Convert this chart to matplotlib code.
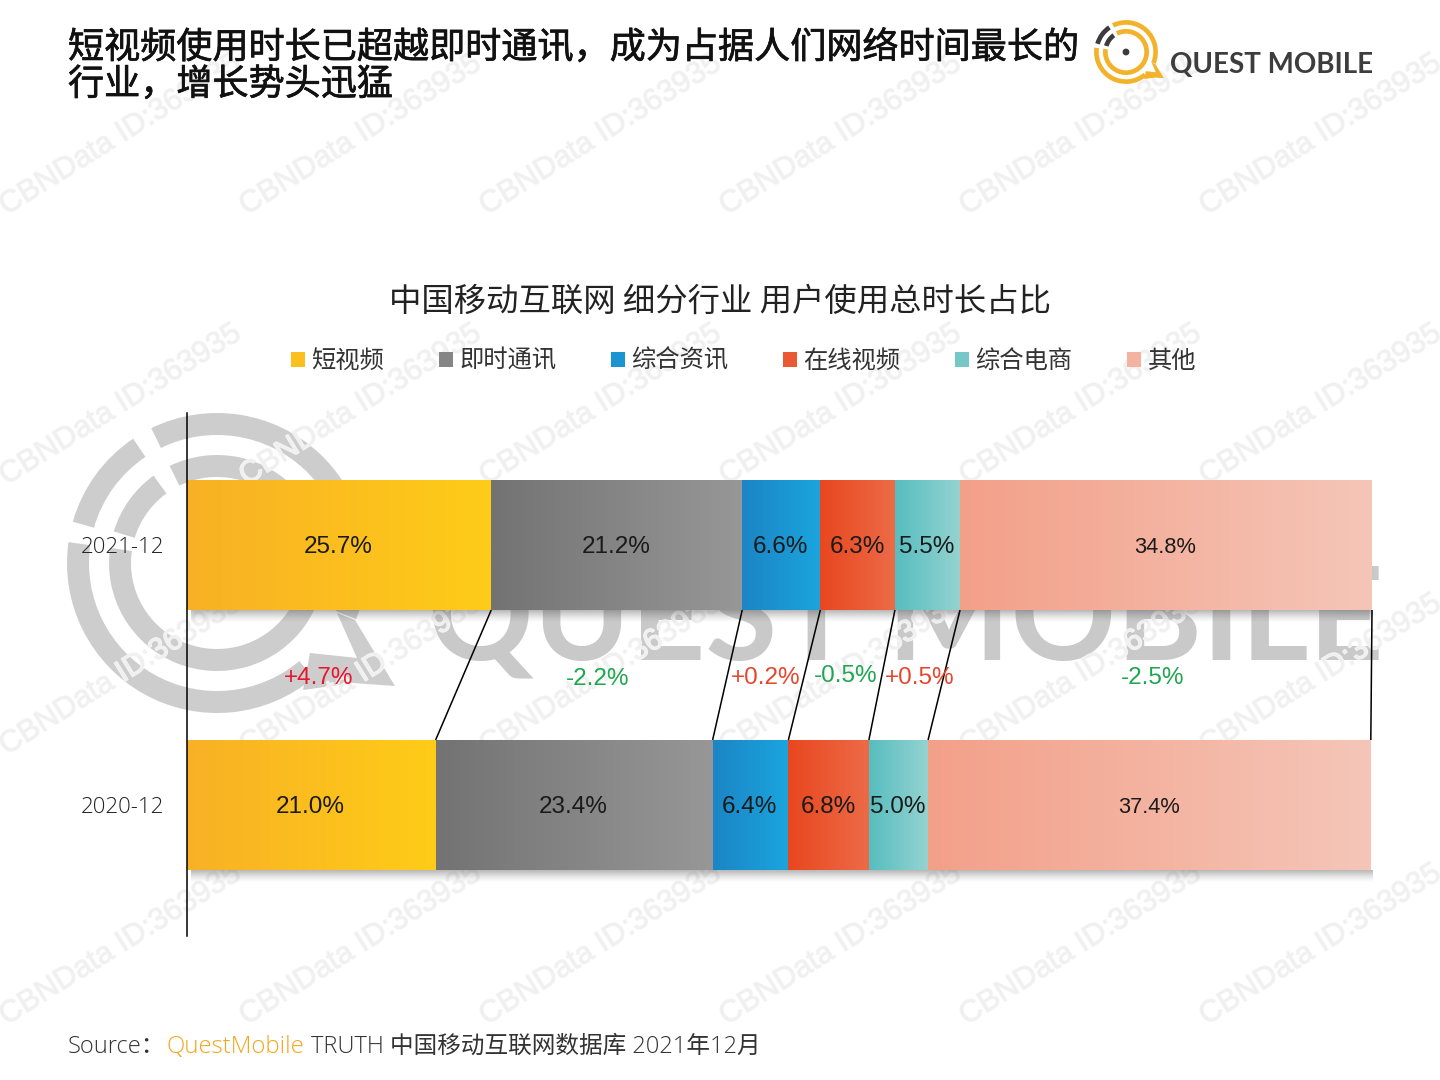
import numpy as np
import matplotlib
matplotlib.use("Agg")
import matplotlib.pyplot as plt
import matplotlib.patheffects as pe
from matplotlib.colors import to_rgb
from matplotlib.patches import Wedge, Polygon, Circle, Patch

CJK = ['Noto Sans CJK SC', 'DejaVu Sans']
plt.rcParams['font.family'] = CJK

years = ['2021-12', '2020-12']
categories = ['短视频', '即时通讯', '综合资讯', '在线视频', '综合电商', '其他']
share_2021 = [25.7, 21.2, 6.6, 6.3, 5.5, 34.8]
share_2020 = [21.0, 23.4, 6.4, 6.8, 5.0, 37.4]
changes = ['+4.7%', '-2.2%', '+0.2%', '-0.5%', '+0.5%', '-2.5%']
change_colors = ['#e5172f', '#1fa650', '#e8452c', '#1fa650', '#e8452c', '#1fa650']
colors_start = ['#f8b125', '#737373', '#1c85c5', '#e8471f', '#58bdbf', '#f3a089']
colors_end = ['#ffcc18', '#979797', '#1aa5de', '#ec6b47', '#95d3d1', '#f5c6b8']
legend_colors = ['#fcc01e', '#858585', '#1b95d2', '#ea5933', '#76c8c8', '#f4b3a1']

W, H = 1440, 1080
fig = plt.figure(figsize=(W / 100, H / 100), dpi=100, facecolor='white')

# ---------- background layer in pixel coordinates (y measured from top)
bg = fig.add_axes([0, 0, 1, 1], zorder=0)
bg.set_xlim(0, W)
bg.set_ylim(0, H)
bg.axis('off')
Y = lambda py: H - py


def logo(cx, cy, s, ring, dark, z):
    cyy = Y(cy)
    R1, R2, w = 150 * s, 108 * s, 22 * s
    arcs = [(R1, -22, 116, ring), (R1, 172, 310, ring), (R2, 172, 476, ring),
            (R1, 124, 164, dark), (R2, 126, 163, dark)]
    for r, a0, a1, c in arcs:
        bg.add_patch(Wedge((cx, cyy), r, a0, a1, width=w, fc=c, ec='none', zorder=z))
    pts = [(138, -57), (178, -123), (136, -120), (86, -127), (93, -90), (140, -95), (120, -50)]
    bg.add_patch(Polygon([(cx + a * s, cyy + b * s) for a, b in pts], fc=ring, ec='none', zorder=z))
    bg.add_patch(Circle((cx, cyy), 16 * s, fc=dark, ec='none', zorder=z))


logo(217, 563, 1.0, '#cdcdcd', '#cdcdcd', 1)
bg.text(428, Y(660), 'QUEST MOBILE', family='Lato', weight='bold', fontsize=94, color='#c9c9c9',
        va='baseline', ha='left', zorder=1)

for cy in [135, 405, 675, 945]:
    for cx in [120, 360, 600, 840, 1080, 1320]:
        bg.text(cx, Y(cy), 'CBNData ID:363935', family='Liberation Sans', fontsize=22, color='#f0f0f0',
                rotation=32, rotation_mode='anchor', ha='center', va='center', zorder=2,
                path_effects=[pe.withStroke(linewidth=1.0, foreground='#f6f6f6')])

logo(1126, 52, 0.213, '#f2b32a', '#3c3c3c', 3)
bg.text(1170, Y(73), 'QUEST MOBILE', family='Lato', weight='bold', fontsize=20, color='#3d3d3d',
        va='baseline', ha='left', zorder=3)

bg.text(68, Y(95), '短视频使用时长已超越即时通讯，成为占据人们网络时间最长的\n行业，增长势头迅猛',
        fontsize=26, color='#111111', va='baseline', ha='left', linespacing=1.03, zorder=3,
        path_effects=[pe.withStroke(linewidth=0.5, foreground='#111111')])
bg.text(720, Y(311), '中国移动互联网 细分行业 用户使用总时长占比', fontsize=23.3, color='#222222',
        va='baseline', ha='center', zorder=3)

bg.text(68, Y(1053), 'Source：', family=['Open Sans', 'Noto Sans CJK SC'], weight='light', fontsize=17,
        color='#333333', va='baseline', zorder=3)
bg.text(166, Y(1053), 'QuestMobile', family=['Open Sans'], weight='light', fontsize=17.3, color='#f2a71e',
        va='baseline', zorder=3)
bg.text(311, Y(1053), 'TRUTH 中国移动互联网数据库 2021年12月', family=['Open Sans', 'Noto Sans CJK SC'],
        weight='light', fontsize=17, color='#333333', va='baseline', zorder=3)

# ---------- chart
ax = fig.add_axes([187 / W, 1 - 936 / H, (1372 - 187) / W, (936 - 413) / H], zorder=1)
ax.patch.set_alpha(0)
total = sum(share_2021)
ypos = [1, 0]
bar_h = 0.5
xlim = (0, total)
ylim = (-0.504, 1.508)
rows = [share_2021, share_2020]

for row, y in zip(rows, ypos):
    # soft shadow under the bar
    sh = np.zeros((32, 2, 4))
    sh[..., :3] = 0.35
    sh[..., 3] = np.linspace(0.55, 0, 32)[:, None] ** 1.4
    ax.imshow(sh, extent=(0.3, total, y - bar_h / 2 - 0.05, y - bar_h / 2), aspect='auto', zorder=1)
    left = 0
    for i, v in enumerate(row):
        bar = ax.barh(y, v, left=left, height=bar_h, color=legend_colors[i], lw=0, zorder=2)[0]
        grad = np.linspace(to_rgb(colors_start[i]), to_rgb(colors_end[i]), 128)[None, :, :]
        im = ax.imshow(grad, extent=(left, left + v, y - bar_h / 2, y + bar_h / 2), aspect='auto', zorder=3)
        im.set_clip_path(bar)
        big = i in (0, 1, 2, 3, 4)
        ax.text(left + v / 2 - 0.05, y - 0.008, f'{v:.1f}%', family='Liberation Sans',
                fontsize=17.5 if big else 15.7, color='#1a1a1a', ha='center', va='center', zorder=5)
        left += v

# connectors between the two bars
c21 = np.cumsum(share_2021)
c20 = np.cumsum(share_2020)
for a, b in zip(c21, c20):
    ax.plot([a, b], [1 - bar_h / 2, bar_h / 2], color='black', lw=1.1, zorder=4, clip_on=False,
            solid_capstyle='butt')

# change labels sit in the gap between the bars
label_x = [11.15, 34.65, 48.85, 55.6, 61.85, 81.6]
label_y = [0.49, 0.485, 0.49, 0.498, 0.49, 0.49]
for s, c, lx, ly in zip(changes, change_colors, label_x, label_y):
    ax.text(lx, ly, s, family='Liberation Sans', fontsize=17.5, color=c, ha='center', va='center', zorder=5)

ax.set_xlim(*xlim)
ax.set_ylim(*ylim)
ax.set_xticks([])
ax.set_yticks(ypos)
ax.set_yticklabels(years, family='Open Sans', fontweight='light', fontsize=16, color='#222222')
ax.tick_params(axis='y', length=0, pad=16.5)
for s in ['top', 'right', 'bottom']:
    ax.spines[s].set_visible(False)
ax.spines['left'].set_linewidth(1.1)
ax.spines['left'].set_zorder(6)

handles = [Patch(fc=c, ec='none') for c in legend_colors]
fig.legend(handles, categories, loc='center', bbox_to_anchor=(743.5 / W, 1 - 361 / H), ncol=6, frameon=False,
           fontsize=17.5, columnspacing=2.26, handlelength=0.58, handleheight=0.58, handletextpad=0.25,
           labelcolor='#333333', borderpad=0, borderaxespad=0)

fig.savefig('out.png', dpi=100, facecolor='white')
